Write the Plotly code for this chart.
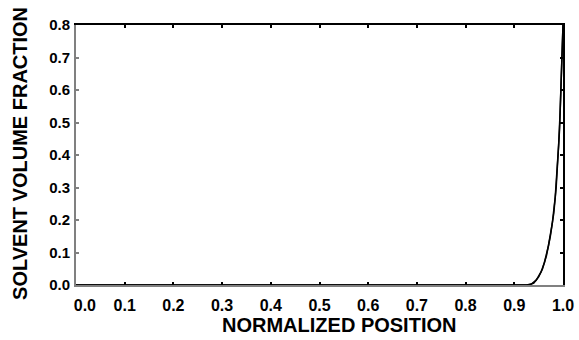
import plotly.graph_objects as go

x_a = [0.0, 0.90, 0.925, 0.935, 0.945, 0.955, 0.962, 0.970, 0.978, 0.984, 0.988, 0.991, 0.994, 0.996, 0.998, 0.999, 1.0]
y_a = [0.0, 0.0, 0.0, 0.003, 0.015, 0.04, 0.07, 0.12, 0.19, 0.27, 0.35, 0.43, 0.53, 0.62, 0.72, 0.78, 0.80]
x_b = [0.0, 0.90, 0.930, 0.940, 0.950, 0.958, 0.966, 0.974, 0.981, 0.986, 0.990, 0.993, 0.995, 0.997, 0.999, 1.0]
y_b = [0.0, 0.0, 0.0, 0.006, 0.025, 0.05, 0.09, 0.15, 0.22, 0.30, 0.39, 0.48, 0.57, 0.66, 0.76, 0.80]

xticks = [0.0, 0.1, 0.2, 0.3, 0.4, 0.5, 0.6, 0.7, 0.8, 0.9, 1.0]
yticks = [0.0, 0.1, 0.2, 0.3, 0.4, 0.5, 0.6, 0.7, 0.8]
x_title = "NORMALIZED POSITION"
y_title = "SOLVENT VOLUME FRACTION"

fig = go.Figure()
fig.add_trace(go.Scatter(x=x_a, y=y_a, mode="lines", line=dict(color="black", width=1.5), showlegend=False))
fig.add_trace(go.Scatter(x=x_b, y=y_b, mode="lines", line=dict(color="black", width=1.5), showlegend=False))

font = dict(family="Liberation Sans, Arial, sans-serif", color="black")
xtext = [f"<b>{v:.1f}</b>" for v in xticks]
xtext[0] = "&nbsp;&nbsp;&nbsp;&nbsp;<b>0.0</b>"
gray = "#808080"
fig.update_layout(
    width=579, height=340,
    margin=dict(l=76, r=16, t=25, b=55),
    plot_bgcolor="white", paper_bgcolor="white",
    font=font,
    xaxis=dict(
        range=[0, 1], tickvals=xticks, ticktext=xtext, automargin=False,
        ticks="inside", ticklen=3, tickcolor="black", tickwidth=1.5, showgrid=False, zeroline=False,
        showline=True, linecolor=gray, linewidth=2,
        tickfont=dict(size=16, **font), ticklabelstandoff=5,
    ),
    xaxis2=dict(
        range=[0, 1], tickvals=xticks, overlaying="x", side="top", matches="x",
        ticks="inside", ticklen=3, tickcolor="black", tickwidth=1.5, showticklabels=False,
        showgrid=False, zeroline=False, showline=True, linecolor="black", linewidth=2,
    ),
    yaxis=dict(
        range=[0, 0.8], tickvals=yticks, ticktext=[f"<b>{v:.1f}</b>" for v in yticks], automargin=False,
        ticks="inside", ticklen=3, tickcolor=gray, tickwidth=1.5, showgrid=False, zeroline=False,
        showline=True, linecolor=gray, linewidth=2,
        tickfont=dict(size=15, **font), ticklabelstandoff=1,
    ),
    yaxis2=dict(
        range=[0, 0.8], tickvals=yticks, overlaying="y", side="right", matches="y",
        ticks="inside", ticklen=3, tickcolor="black", tickwidth=1.5, showticklabels=False,
        showgrid=False, zeroline=False, showline=True, linecolor="black", linewidth=2,
    ),
    annotations=[
        dict(text=f"<b>{x_title}</b>", xref="paper", yref="paper", x=0.54, y=-0.154,
             xanchor="center", yanchor="middle", showarrow=False, font=dict(size=20, **font)),
        dict(text=f"<b>{y_title}</b>", xref="paper", yref="paper", x=-0.115, y=0.508,
             xanchor="center", yanchor="middle", textangle=-90, showarrow=False,
             font=dict(size=20, **font)),
    ],
)
fig.add_trace(go.Scatter(x=[None], y=[None], xaxis="x2", yaxis="y2", showlegend=False, hoverinfo="skip"))
fig.write_html("out.html", config={"displayModeBar": False},
               post_script="document.body.style.margin='0';document.body.style.padding='0';")
